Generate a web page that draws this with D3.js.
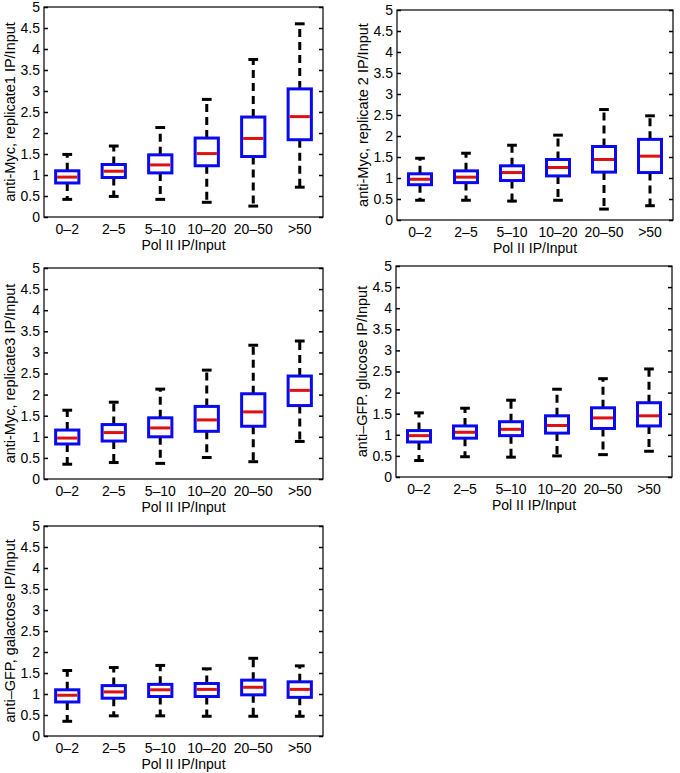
<!DOCTYPE html>
<html>
<head>
<meta charset="utf-8">
<script src="https://cdn.jsdelivr.net/npm/d3@7"></script>
<style>
  body { margin: 0; background: #fff; }
  svg { display: block; }
</style>
</head>
<body>
<div id="chart"></div>
<script>
// categories on x, y ticks
var categories = ["0\u20132", "2\u20135", "5\u201310", "10\u201320", "20\u201350", ">50"];
var yTicks = [0, 0.5, 1, 1.5, 2, 2.5, 3, 3.5, 4, 4.5, 5];

// box stats per category: [lower whisker, q1, median, q3, upper whisker]
var mycRep1 = [
  [0.42, 0.81, 0.95, 1.10, 1.49],
  [0.49, 0.94, 1.09, 1.25, 1.69],
  [0.42, 1.05, 1.24, 1.48, 2.13],
  [0.35, 1.22, 1.51, 1.88, 2.80],
  [0.26, 1.44, 1.87, 2.38, 3.75],
  [0.71, 1.84, 2.39, 3.05, 4.60]
];
var mycRep2 = [
  [0.47, 0.84, 0.97, 1.10, 1.47],
  [0.47, 0.89, 1.02, 1.17, 1.59],
  [0.45, 0.94, 1.13, 1.29, 1.78],
  [0.47, 1.05, 1.25, 1.44, 2.02],
  [0.26, 1.14, 1.44, 1.75, 2.63],
  [0.34, 1.13, 1.52, 1.92, 2.48]
];
var mycRep3 = [
  [0.35, 0.83, 0.97, 1.16, 1.63],
  [0.39, 0.90, 1.10, 1.29, 1.82],
  [0.37, 1.00, 1.21, 1.45, 2.13],
  [0.51, 1.13, 1.40, 1.72, 2.58],
  [0.41, 1.25, 1.59, 2.02, 3.17],
  [0.89, 1.74, 2.10, 2.44, 3.27]
];
var gfpGlucose = [
  [0.39, 0.83, 0.98, 1.10, 1.52],
  [0.48, 0.92, 1.06, 1.21, 1.63],
  [0.47, 0.98, 1.13, 1.31, 1.82],
  [0.50, 1.04, 1.22, 1.45, 2.08],
  [0.53, 1.15, 1.40, 1.64, 2.33],
  [0.61, 1.21, 1.45, 1.76, 2.56]
];
var gfpGalactose = [
  [0.35, 0.81, 0.97, 1.10, 1.56],
  [0.48, 0.90, 1.05, 1.20, 1.63],
  [0.48, 0.94, 1.10, 1.23, 1.68],
  [0.47, 0.94, 1.11, 1.25, 1.60],
  [0.47, 0.98, 1.16, 1.33, 1.85],
  [0.47, 0.92, 1.11, 1.29, 1.67]
];

var panels = [
  {ylab: "anti-Myc, replicate1 IP/Input", stats: mycRep1, left: 44, top: 7, right: 323, bottom: 217},
  {ylab: "anti-Myc, replicate 2 IP/Input", stats: mycRep2, left: 397, top: 10, right: 673, bottom: 220},
  {ylab: "anti-Myc, replicate3 IP/Input", stats: mycRep3, left: 44, top: 268, right: 323, bottom: 479},
  {ylab: "anti\u2013GFP. glucose IP/Input", stats: gfpGlucose, left: 396, top: 266, right: 672, bottom: 477},
  {ylab: "anti\u2013GFP, galactose IP/Input", stats: gfpGalactose, left: 44, top: 526, right: 323, bottom: 736}
];

var font = "'Liberation Sans', Arial, Helvetica, sans-serif";
var blue = "#0a0aee", red = "#dd1111";

var svg = d3.select("#chart").append("svg")
    .attr("width", 680)
    .attr("height", 773)
    .style("font-family", font);

panels.forEach(function(p) {
  var x = d3.scaleBand()
      .domain(categories)
      .range([p.left, p.right]);
  var y = d3.scaleLinear()
      .domain([0, 5])
      .range([p.bottom, p.top]);

  var g = svg.append("g");
  var bw = x.bandwidth() * 0.5;
  var capW = bw * 0.42;

  // y axis left with inside ticks
  var yl = g.append("g")
      .attr("transform", "translate(" + p.left + ",0)")
      .call(d3.axisLeft(y).tickValues(yTicks).tickSizeInner(-4).tickSizeOuter(0)
        .tickPadding(4).tickFormat(function(d) { return String(d); }));
  yl.select(".domain").remove();
  yl.selectAll("text").attr("font-size", 14).attr("font-family", font).attr("fill", "#000");
  yl.selectAll("line").attr("stroke", "#000").attr("stroke-width", 1.5);

  var yr = g.append("g")
      .attr("transform", "translate(" + p.right + ",0)")
      .call(d3.axisRight(y).tickValues(yTicks).tickSizeInner(-4).tickSizeOuter(0).tickFormat(""));
  yr.select(".domain").remove();
  yr.selectAll("line").attr("stroke", "#000").attr("stroke-width", 1.5);

  var xa = g.append("g")
      .attr("transform", "translate(0," + p.bottom + ")")
      .call(d3.axisBottom(x).tickSize(0).tickPadding(7));
  xa.select(".domain").remove();
  xa.selectAll("text").attr("font-size", 14).attr("font-family", font).attr("fill", "#000");

  // frame
  g.append("rect")
      .attr("x", p.left).attr("y", p.top)
      .attr("width", p.right - p.left).attr("height", p.bottom - p.top)
      .attr("fill", "none").attr("stroke", "#000").attr("stroke-width", 1.2);

  // labels
  g.append("text")
      .attr("transform", "translate(" + (p.left - 29) + "," + ((p.top + p.bottom) / 2) + ") rotate(-90)")
      .attr("text-anchor", "middle")
      .attr("font-size", 14.5)
      .text(p.ylab);
  g.append("text")
      .attr("x", (p.left + p.right) / 2)
      .attr("y", p.bottom + 33)
      .attr("text-anchor", "middle")
      .attr("font-size", 14)
      .text("Pol II IP/Input");

  var boxes = g.selectAll(".bx")
      .data(p.stats)
      .join("g")
      .attr("transform", function(d, i) { return "translate(" + (x(categories[i]) + x.bandwidth() / 2) + ",0)"; });

  // whiskers
  boxes.append("line")
      .attr("y1", function(d) { return y(d[3]); })
      .attr("y2", function(d) { return y(d[4]); })
      .attr("stroke", "#000").attr("stroke-width", 3).attr("stroke-dasharray", "8,5");
  boxes.append("line")
      .attr("y1", function(d) { return y(d[1]); })
      .attr("y2", function(d) { return y(d[0]); })
      .attr("stroke", "#000").attr("stroke-width", 3).attr("stroke-dasharray", "8,5");
  // caps
  boxes.append("line")
      .attr("x1", -capW / 2).attr("x2", capW / 2)
      .attr("y1", function(d) { return y(d[4]); })
      .attr("y2", function(d) { return y(d[4]); })
      .attr("stroke", "#000").attr("stroke-width", 3);
  boxes.append("line")
      .attr("x1", -capW / 2).attr("x2", capW / 2)
      .attr("y1", function(d) { return y(d[0]); })
      .attr("y2", function(d) { return y(d[0]); })
      .attr("stroke", "#000").attr("stroke-width", 3);
  // box
  boxes.append("rect")
      .attr("x", -bw / 2)
      .attr("width", bw)
      .attr("y", function(d) { return y(d[3]); })
      .attr("height", function(d) { return y(d[1]) - y(d[3]); })
      .attr("fill", "#fff").attr("stroke", blue).attr("stroke-width", 3);
  // median
  boxes.append("line")
      .attr("x1", -bw / 2 + 1.5).attr("x2", bw / 2 - 1.5)
      .attr("y1", function(d) { return y(d[2]); })
      .attr("y2", function(d) { return y(d[2]); })
      .attr("stroke", red).attr("stroke-width", 3);
});
</script>
</body>
</html>
